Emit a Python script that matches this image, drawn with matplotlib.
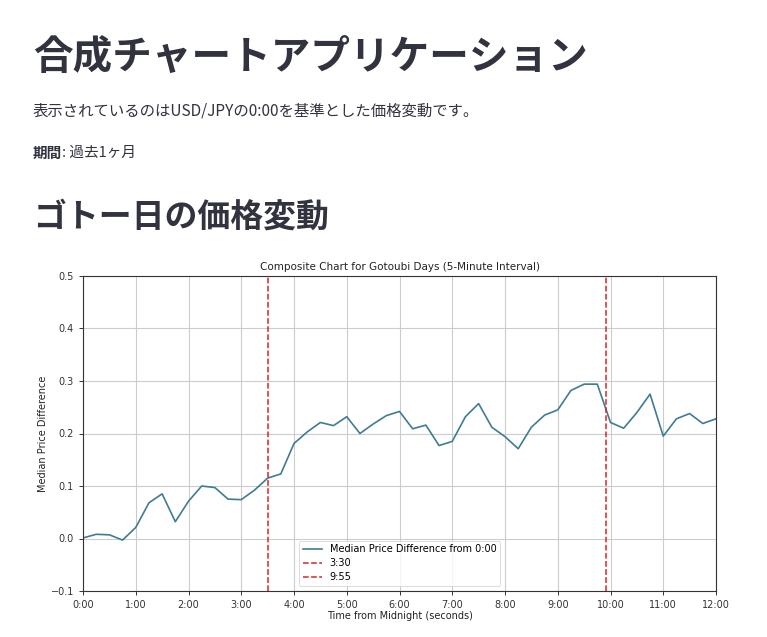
import matplotlib
matplotlib.use("Agg")
import matplotlib.pyplot as plt
from matplotlib.ticker import FuncFormatter, MultipleLocator

# ---- data ----
time_seconds = [0, 15, 30, 45, 60, 75, 90, 105, 120, 135, 150, 165, 180, 195, 210, 225,
                240, 255, 270, 285, 300, 315, 330, 345, 360, 375, 390, 405, 420, 435, 450,
                465, 480, 495, 510, 525, 540, 555, 570, 585, 600, 615, 630, 645, 660, 675,
                690, 705, 720]
median_diff = [0.001, 0.008, 0.007, -0.003, 0.021, 0.068, 0.085, 0.032, 0.071, 0.100,
               0.097, 0.075, 0.074, 0.092, 0.115, 0.123, 0.181, 0.203, 0.221, 0.215,
               0.232, 0.200, 0.218, 0.234, 0.242, 0.209, 0.216, 0.177, 0.185, 0.232,
               0.257, 0.212, 0.194, 0.171, 0.212, 0.235, 0.245, 0.282, 0.294, 0.294,
               0.221, 0.210, 0.240, 0.275, 0.195, 0.228, 0.238, 0.219, 0.228]
vline_seconds = [210, 595]
vline_labels = ["3:30", "9:55"]
series_label = "Median Price Difference from 0:00"
chart_title = "Composite Chart for Gotoubi Days (5-Minute Interval)"
x_label = "Time from Midnight (seconds)"
y_label = "Median Price Difference"
page_title = "合成チャートアプリケーション"
page_desc = "表示されているのはUSD/JPYの0:00を基準とした価格変動です。"
period_label = "期間"
period_value = ": 過去1ヶ月"
section_title = "ゴトー日の価格変動"

W, H = 767, 637
fig = plt.figure(figsize=(W / 100, H / 100), dpi=100)
fig.patch.set_facecolor("white")

jp = ["Noto Sans CJK JP", "DejaVu Sans"]
text_color = "#31333f"

fig.text(33 / W, 1 - 57 / H, page_title, fontsize=28.5, fontweight="bold",
         family=jp, color=text_color, va="center", ha="left")
fig.text(33 / W, 1 - 111 / H, page_desc, fontsize=11.1, family=jp,
         color=text_color, va="center", ha="left")
t = fig.text(33 / W, 1 - 153 / H, period_label, fontsize=10.5, fontweight="bold",
             family=jp, color=text_color, va="center", ha="left")
fig.canvas.draw()
bb = t.get_window_extent()
fig.text(bb.x1 / W, 1 - 153 / H, period_value, fontsize=10.5, family=jp,
         color=text_color, va="center", ha="left")
fig.text(33 / W, 1 - 217 / H, section_title, fontsize=23.7, fontweight="bold",
         family=jp, color=text_color, va="center", ha="left")

# ---- chart ----
ax = fig.add_axes([83 / W, 1 - 591 / H, (716 - 83) / W, (591 - 276) / H])
ax.plot(time_seconds, median_diff, color="#3f7c94", linewidth=1.2, label=series_label)
for xs, lab in zip(vline_seconds, vline_labels):
    ax.axvline(xs, color="#d62728", linestyle="--", linewidth=1.1, label=lab)

ax.set_xlim(0, 720)
ax.set_ylim(-0.1, 0.5)
ax.xaxis.set_major_locator(MultipleLocator(60))
ax.yaxis.set_major_locator(MultipleLocator(0.1))
ax.xaxis.set_major_formatter(FuncFormatter(lambda v, p: f"{int(v) // 60}:{int(v) % 60:02d}"))
ax.yaxis.set_major_formatter(FuncFormatter(lambda v, p: f"{v:.1f}".replace("-", "\u2212")))
ax.tick_params(labelsize=7, length=3, width=0.7, colors="#333333")
ax.grid(True, color="#cccccc", linewidth=0.8)
ax.set_axisbelow(True)
for s in ax.spines.values():
    s.set_linewidth(0.8)
    s.set_color("#333333")

ax.set_title(chart_title, fontsize=7.5, color="#222222", pad=4)
ax.set_xlabel(x_label, fontsize=7, color="#222222", labelpad=1)
ax.set_ylabel(y_label, fontsize=7, color="#222222", labelpad=2)
leg = ax.legend(loc="lower center", fontsize=7, framealpha=0.8, borderpad=0.4,
                labelspacing=0.4, handlelength=2.0)
leg.get_frame().set_linewidth(0.6)

fig.savefig("out.png", dpi=100, facecolor="white")
